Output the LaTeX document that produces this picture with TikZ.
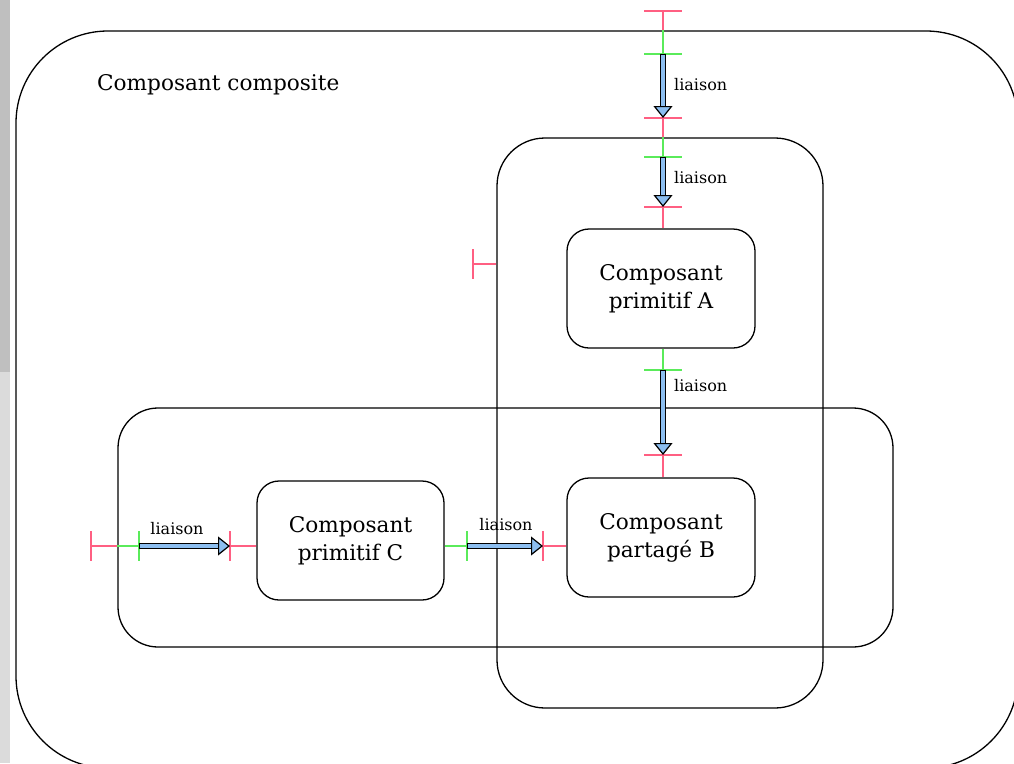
\documentclass[tikz,border=0pt]{standalone}
\usepackage{fontspec}
\setmainfont{DejaVu Serif}
\usetikzlibrary{arrows.meta,calc,positioning}
\definecolor{reqred}{RGB}{255,95,130}
\definecolor{provgreen}{RGB}{90,235,90}
\definecolor{arrowblue}{RGB}{140,190,240}

\newcommand{\liaisonarrow}[2]{%
  \draw[line width=6.8pt,-{Triangle[length=12pt,width=19pt,fill=arrowblue,line width=1.2pt]}] (#1) -- (#2);
  \draw[arrowblue,line width=4.2pt,shorten <=1.3pt,shorten >=12pt] (#1) -- (#2);
}

\begin{document}
\begin{tikzpicture}[x=1pt,y=-1pt,
        box/.style={draw,line width=1.3pt,rounded corners=22pt,minimum width=188pt,
            minimum height=119pt,align=center,font=\fontsize{21.6}{28}\selectfont},
        group/.style={draw,line width=1.3pt,inner sep=0pt},
        req/.style={draw=reqred,line width=1.5pt},
        prov/.style={draw=provgreen,line width=1.5pt},
        lbl/.style={font=\fontsize{16}{16}\selectfont,inner sep=1pt}]

    \fill[black!25] (0,0) rectangle (10,372);
    \fill[black!14] (0,372) rectangle (10,763);
    \useasboundingbox (0,0) rectangle (1014,763);
    \clip (0,0) rectangle (1014,763);

    \node[group,rounded corners=92pt,minimum width=1002pt,minimum height=737pt] (O) at (517,399.5) {};
    \node[anchor=west,inner sep=0pt,font=\fontsize{21.6}{26}\selectfont] (title) at (97,85) {Composant composite};
    \node[group,rounded corners=40pt,minimum width=775pt,minimum height=239pt] (H) at (505.5,527.5) {};
    \node[group,rounded corners=48pt,minimum width=326pt,minimum height=570pt] (V) at (660,423) {};

    \node[box] (A) at (661,288.5) {Composant\\primitif A};
    \node[box] (B) at (661,537.5) {Composant\\partagé B};
    \node[box,minimum width=187pt] (C) at (350.5,540.5) {Composant\\primitif C};

    \coordinate (r0) at (663,11);
    \coordinate (g1) at (663,54);
    \coordinate (r1) at (663,118);
    \coordinate (g2) at (663,157);
    \coordinate (r2) at (663,207);
    \coordinate (g3) at (663,370);
    \coordinate (r3) at (663,455);
    \coordinate (r4) at (91,546);
    \coordinate (g4) at (139,546);
    \coordinate (r5) at (230,546);
    \coordinate (g5) at (467,546);
    \coordinate (r6) at (543,546);
    \coordinate (r7) at (473,264);

    \draw[req] (r0) -- (r0 |- O.north);
    \draw[prov] (r0 |- O.north) -- (g1);
    \draw[req] (r1) -- (r1 |- V.north);
    \draw[prov] (r1 |- V.north) -- (g2);
    \draw[req] (r2) -- (r2 |- A.north);
    \draw[prov] (g3 |- A.south) -- (g3);
    \draw[req] (r3) -- (r3 |- B.north);
    \draw[req] (r4) -- (r4 -| H.west);
    \draw[prov] (r4 -| H.west) -- (g4);
    \draw[req] (r5) -- (r5 -| C.west);
    \draw[prov] (g5 -| C.east) -- (g5);
    \draw[req] (r6) -- (r6 -| B.west);
    \draw[req] (r7) -- (r7 -| V.west);

    \foreach \p in {r0,r1,r2,r3} \draw[req] (\p) ++(-19,0) -- ++(38,0);
    \foreach \p in {g1,g2,g3} \draw[prov] (\p) ++(-19,0) -- ++(38,0);
    \foreach \p in {r4,r5,r6,r7} \draw[req] (\p) ++(0,-15) -- ++(0,30);
    \foreach \p in {g4,g5} \draw[prov] (\p) ++(0,-15) -- ++(0,30);

    \liaisonarrow{g1}{r1}
    \liaisonarrow{g2}{r2}
    \liaisonarrow{g3}{r3}
    \liaisonarrow{g4}{r5}
    \liaisonarrow{g5}{r6}

    \node[lbl,anchor=west] (l1) at (673,85) {liaison};
    \node[lbl,anchor=west] (l2) at (673,178) {liaison};
    \node[lbl,anchor=west] (l3) at (673,386) {liaison};
    \node[lbl] (l4) at (177,529) {liaison};
    \node[lbl] (l5) at (506,525) {liaison};

\end{tikzpicture}
\end{document}
